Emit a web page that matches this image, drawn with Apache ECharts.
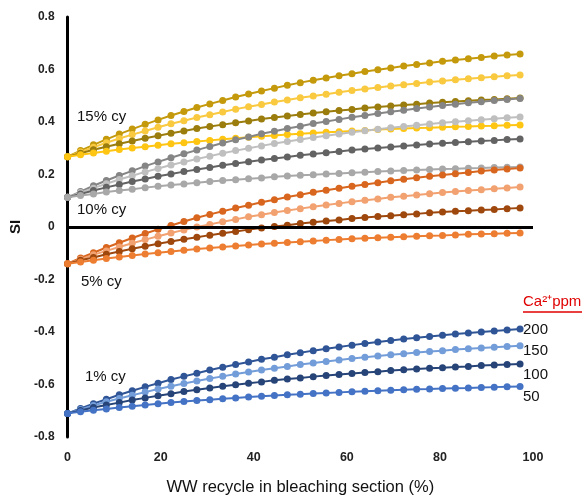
<!DOCTYPE html>
<html><head><meta charset="utf-8">
<script src="https://cdn.jsdelivr.net/npm/echarts@6/dist/echarts.min.js"></script>
<style>html,body{margin:0;padding:0;background:#fff}#c{width:584px;height:503px}</style>
</head><body><div id="c"></div>
<script>
const recycle = [0, 2.78, 5.56, 8.33, 11.11, 13.89, 16.67, 19.44, 22.22, 25, 27.78, 30.56, 33.33, 36.11, 38.89, 41.67, 44.44, 47.22, 50, 52.78, 55.56, 58.33, 61.11, 63.89, 66.67, 69.44, 72.22, 75, 77.78, 80.56, 83.33, 86.11, 88.89, 91.67, 94.44, 97.22];

// 15% cy
const cy15_ca200 = [.268,.291,.313,.334,.354,.373,.391,.408,.425,.440,.455,.469,.482,.495,.507,.518,.529,.540,.550,.559,.568,.576,.584,.592,.599,.606,.613,.619,.625,.631,.636,.641,.646,.651,.655,.659];
const cy15_ca150 = [.268,.286,.304,.321,.337,.352,.366,.380,.393,.405,.417,.428,.438,.449,.458,.467,.476,.484,.492,.499,.506,.513,.520,.526,.531,.537,.542,.547,.552,.556,.561,.565,.569,.572,.576,.579];
const cy15_ca100 = [.268,.281,.294,.306,.317,.328,.338,.348,.357,.366,.375,.383,.390,.397,.404,.411,.417,.423,.429,.434,.439,.444,.448,.453,.457,.461,.465,.468,.472,.475,.478,.481,.484,.486,.489,.491];
const cy15_ca50  = [.268,.275,.282,.289,.295,.301,.306,.311,.317,.321,.326,.330,.334,.338,.342,.346,.349,.352,.355,.358,.361,.363,.366,.368,.371,.373,.375,.377,.378,.380,.382,.383,.385,.386,.388,.389];
// 10% cy
const cy10_ca200 = [.113,.135,.157,.177,.196,.214,.232,.248,.264,.279,.293,.307,.320,.332,.343,.355,.365,.375,.384,.394,.402,.410,.418,.425,.432,.439,.445,.451,.457,.463,.468,.473,.477,.482,.486,.490];
const cy10_ca150 = [.113,.131,.148,.165,.181,.195,.210,.223,.236,.248,.259,.270,.281,.291,.300,.309,.318,.326,.333,.341,.348,.354,.361,.367,.372,.378,.383,.388,.392,.397,.401,.405,.409,.412,.416,.419];
const cy10_ca100 = [.113,.126,.139,.151,.162,.173,.183,.193,.202,.211,.219,.227,.235,.242,.249,.255,.261,.267,.273,.278,.283,.288,.293,.297,.301,.305,.309,.312,.316,.319,.322,.325,.328,.330,.333,.335];
const cy10_ca50  = [.113,.120,.126,.133,.139,.144,.150,.155,.160,.164,.169,.173,.177,.180,.184,.187,.191,.194,.197,.199,.202,.204,.207,.209,.211,.213,.215,.217,.219,.221,.222,.224,.225,.227,.228,.229];
// 5% cy
const cy5_ca200 = [-.140,-.118,-.098,-.078,-.060,-.042,-.025,-.009,.006,.021,.035,.048,.060,.072,.083,.094,.104,.114,.123,.132,.140,.148,.155,.162,.169,.176,.182,.188,.193,.198,.203,.208,.213,.217,.221,.225];
const cy5_ca150 = [-.140,-.123,-.106,-.091,-.076,-.062,-.048,-.035,-.023,-.011,-.000,.010,.020,.029,.039,.047,.055,.063,.070,.077,.084,.090,.096,.102,.107,.113,.117,.122,.127,.131,.135,.139,.142,.146,.149,.152];
const cy5_ca100 = [-.140,-.127,-.116,-.104,-.093,-.083,-.073,-.064,-.055,-.047,-.039,-.031,-.024,-.017,-.010,-.004,.002,.007,.013,.018,.023,.027,.032,.036,.040,.043,.047,.050,.054,.057,.060,.062,.065,.067,.070,.072];
const cy5_ca50  = [-.140,-.133,-.127,-.120,-.114,-.109,-.103,-.098,-.093,-.089,-.084,-.080,-.076,-.072,-.069,-.065,-.062,-.059,-.056,-.053,-.050,-.048,-.045,-.043,-.041,-.039,-.037,-.035,-.033,-.032,-.030,-.028,-.027,-.026,-.024,-.023];
// 1% cy
const cy1_ca200 = [-.710,-.691,-.673,-.656,-.639,-.624,-.609,-.595,-.581,-.569,-.557,-.545,-.534,-.524,-.514,-.504,-.496,-.487,-.479,-.471,-.464,-.457,-.450,-.444,-.438,-.432,-.427,-.422,-.417,-.412,-.408,-.404,-.400,-.396,-.392,-.389];
const cy1_ca150 = [-.710,-.695,-.680,-.666,-.653,-.641,-.629,-.617,-.607,-.596,-.587,-.577,-.569,-.560,-.552,-.545,-.538,-.531,-.524,-.518,-.512,-.507,-.501,-.496,-.491,-.487,-.483,-.478,-.474,-.471,-.467,-.464,-.461,-.458,-.455,-.452];
const cy1_ca100 = [-.710,-.699,-.688,-.678,-.669,-.659,-.651,-.643,-.635,-.627,-.620,-.613,-.607,-.601,-.595,-.590,-.584,-.579,-.575,-.570,-.566,-.562,-.558,-.554,-.551,-.547,-.544,-.541,-.538,-.536,-.533,-.531,-.528,-.526,-.524,-.522];
const cy1_ca50  = [-.710,-.704,-.698,-.693,-.688,-.683,-.678,-.673,-.669,-.665,-.661,-.658,-.654,-.651,-.648,-.645,-.642,-.639,-.637,-.634,-.632,-.630,-.628,-.626,-.624,-.622,-.620,-.618,-.617,-.615,-.614,-.613,-.611,-.610,-.609,-.608];

const xTicks = [0, 20, 40, 60, 80, 100];
const yTicks = [-0.8, -0.6, -0.4, -0.2, 0, 0.2, 0.4, 0.6, 0.8];
const groupLabels = ['15% cy', '10% cy', '5% cy', '1% cy'];
const caLevels = ['200', '150', '100', '50'];

const seriesDefs = [
  ['15% cy, 200 ppm', cy15_ca200, '#C49A0C'],
  ['15% cy, 150 ppm', cy15_ca150, '#F9C940'],
  ['15% cy, 100 ppm', cy15_ca100, '#9B7D0D'],
  ['15% cy, 50 ppm',  cy15_ca50,  '#FFC513'],
  ['10% cy, 200 ppm', cy10_ca200, '#858585'],
  ['10% cy, 150 ppm', cy10_ca150, '#BFBFBF'],
  ['10% cy, 100 ppm', cy10_ca100, '#636363'],
  ['10% cy, 50 ppm',  cy10_ca50,  '#A8A8A8'],
  ['5% cy, 200 ppm', cy5_ca200, '#D8661E'],
  ['5% cy, 150 ppm', cy5_ca150, '#F2A170'],
  ['5% cy, 100 ppm', cy5_ca100, '#9E480E'],
  ['5% cy, 50 ppm',  cy5_ca50,  '#ED7D31'],
  ['1% cy, 200 ppm', cy1_ca200, '#2F5597'],
  ['1% cy, 150 ppm', cy1_ca150, '#739DD9'],
  ['1% cy, 100 ppm', cy1_ca100, '#264478'],
  ['1% cy, 50 ppm',  cy1_ca50,  '#4472C4']
];

const chart = echarts.init(document.getElementById('c'), null, {renderer: 'canvas'});
const series = seriesDefs.map(([name, vals, color], k) => ({
  name, type: 'line', symbol: 'circle', symbolSize: 7, silent: true,
  lineStyle: {width: 2, color}, itemStyle: {color},
  data: recycle.map((x, i) => [x, vals[i]]),
  markLine: k === 0 ? {
    silent: true, symbol: ['none', 'none'], label: {show: false},
    lineStyle: {color: '#000', width: 3, type: 'solid'},
    data: [{yAxis: 0}]
  } : undefined,
  z: 3
}));

const FONT = '"Liberation Sans", Arial, sans-serif';
const txt = (x, y, text, extra) => ({type: 'text', x, y,
  style: Object.assign({text, fill: '#111', font: '15px ' + FONT, verticalAlign: 'middle', align: 'left'}, extra || {}), z: 10});

chart.setOption({
  animation: false,
  backgroundColor: '#fff',
  grid: {left: 66, right: 51, top: 17, bottom: 66, containLabel: false},
  xAxis: {
    type: 'value', min: xTicks[0], max: xTicks[xTicks.length - 1], interval: 20,
    axisLine: {show: false}, axisTick: {show: false}, splitLine: {show: false},
    axisLabel: {color: '#222', fontSize: 12.5, fontWeight: 'bold', margin: 14, fontFamily: 'Liberation Sans'},
    name: 'WW recycle in bleaching section (%)', nameLocation: 'middle', nameGap: 42,
    nameTextStyle: {color: '#111', fontSize: 16.5, fontFamily: 'Liberation Sans'}
  },
  yAxis: {
    type: 'value', min: yTicks[0], max: yTicks[yTicks.length - 1], interval: 0.2,
    axisLine: {show: true, onZero: false, lineStyle: {color: '#000', width: 3}},
    axisTick: {show: false}, splitLine: {show: false},
    axisLabel: {color: '#222', fontSize: 12, fontWeight: 'bold', margin: 13, fontFamily: 'Liberation Sans',
      formatter: v => String(Math.round(v * 10) / 10)},
    name: 'SI', nameLocation: 'middle', nameGap: 37, nameRotate: 90,
    nameTextStyle: {color: '#111', fontSize: 15, fontWeight: 'bold', fontFamily: 'Liberation Sans'}
  },
  series,
  graphic: [
    txt(77, 117, groupLabels[0]),
    txt(77, 210, groupLabels[1]),
    txt(81, 282, groupLabels[2]),
    txt(85, 377, groupLabels[3]),
    txt(523, 302, 'Ca\u00B2\u207Appm', {fill: '#E00000', font: '15px ' + FONT}),
    {type: 'line', shape: {x1: 523, y1: 312, x2: 582, y2: 312}, style: {stroke: '#E00000', lineWidth: 1.3}, z: 10},
    txt(523, 330, caLevels[0]),
    txt(523, 351, caLevels[1]),
    txt(523, 375, caLevels[2]),
    txt(523, 397, caLevels[3])
  ]
});
</script></body></html>
